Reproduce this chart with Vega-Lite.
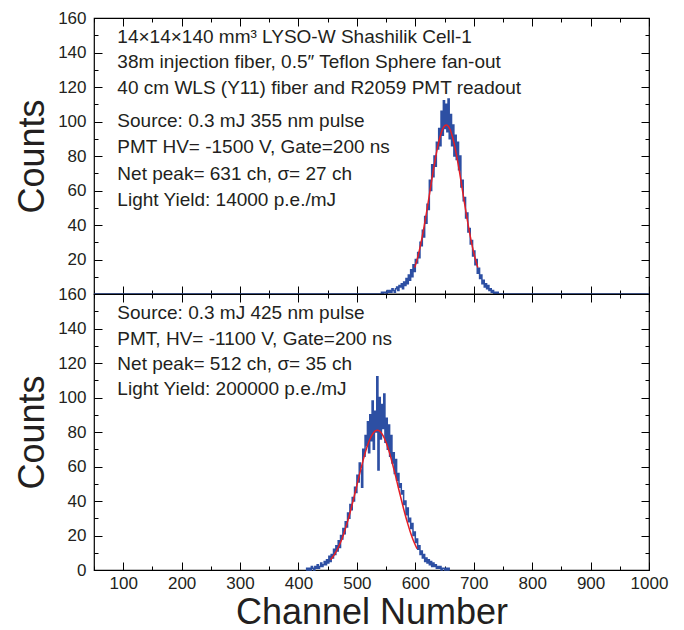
{
  "$schema": "https://vega.github.io/schema/vega-lite/v6.json",
  "background": "white",
  "padding": {"left": 14, "top": 8, "right": 30, "bottom": 0},
  "spacing": 0,
  "bounds": "flush",
  "config": {
    "view": {"stroke": "#000000", "strokeWidth": 1.2},
    "font": "Liberation Sans",
    "axis": {
      "grid": false,
      "domain": false,
      "tickColor": "#000000",
      "tickWidth": 1,
      "labelFont": "Liberation Sans",
      "labelFontSize": 17,
      "labelColor": "#231f20",
      "labelOverlap": false,
      "labelFlush": false,
      "labelBound": false,
      "titleFont": "Liberation Sans",
      "titleFontSize": 36,
      "titleFontWeight": "normal",
      "titleColor": "#231f20"
    },
    "text": {"font": "Liberation Sans", "fontSize": 19, "color": "#231f20"}
  },
  "datasets": {
    "hist1": [
      {"ch":50,"n":0},{"ch":539,"n":0},{"ch":541,"n":0},{"ch":543,"n":1},{"ch":545,"n":0},{"ch":547,"n":1},{"ch":549,"n":1},{"ch":551,"n":0},{"ch":553,"n":2},{"ch":555,"n":1},{"ch":557,"n":2},{"ch":559,"n":1},{"ch":561,"n":3},{"ch":563,"n":2},{"ch":565,"n":1},{"ch":567,"n":3},{"ch":569,"n":4},{"ch":571,"n":2},{"ch":573,"n":5},{"ch":575,"n":4},{"ch":577,"n":6},{"ch":579,"n":3},{"ch":581,"n":7},{"ch":583,"n":5},{"ch":585,"n":9},{"ch":587,"n":6},{"ch":589,"n":11},{"ch":591,"n":8},{"ch":593,"n":14},{"ch":595,"n":10},{"ch":597,"n":17},{"ch":599,"n":13},{"ch":601,"n":20},{"ch":603,"n":18},{"ch":605,"n":24},{"ch":607,"n":21},{"ch":609,"n":30},{"ch":611,"n":28},{"ch":613,"n":37},{"ch":615,"n":33},{"ch":617,"n":45},{"ch":619,"n":41},{"ch":621,"n":52},{"ch":623,"n":49},{"ch":625,"n":66},{"ch":627,"n":60},{"ch":629,"n":75},{"ch":631,"n":68},{"ch":633,"n":80},{"ch":635,"n":74},{"ch":637,"n":88},{"ch":639,"n":84},{"ch":641,"n":96},{"ch":643,"n":86},{"ch":645,"n":106},{"ch":647,"n":92},{"ch":649,"n":112},{"ch":651,"n":96},{"ch":653,"n":110},{"ch":655,"n":94},{"ch":657,"n":113},{"ch":659,"n":90},{"ch":661,"n":104},{"ch":663,"n":86},{"ch":665,"n":98},{"ch":667,"n":80},{"ch":669,"n":92},{"ch":671,"n":78},{"ch":673,"n":88},{"ch":675,"n":72},{"ch":677,"n":80},{"ch":679,"n":62},{"ch":681,"n":66},{"ch":683,"n":54},{"ch":685,"n":56},{"ch":687,"n":44},{"ch":689,"n":47},{"ch":691,"n":36},{"ch":693,"n":38},{"ch":695,"n":29},{"ch":697,"n":31},{"ch":699,"n":22},{"ch":701,"n":25},{"ch":703,"n":17},{"ch":705,"n":20},{"ch":707,"n":12},{"ch":709,"n":15},{"ch":711,"n":9},{"ch":713,"n":11},{"ch":715,"n":6},{"ch":717,"n":8},{"ch":719,"n":4},{"ch":721,"n":6},{"ch":723,"n":3},{"ch":725,"n":5},{"ch":727,"n":2},{"ch":729,"n":3},{"ch":731,"n":1},{"ch":733,"n":2},{"ch":735,"n":0},{"ch":737,"n":1},{"ch":739,"n":0},{"ch":741,"n":1},{"ch":743,"n":0},{"ch":1000,"n":0}
    ],
    "fit1": [
      {"ch":599,"n":15.3},{"ch":603,"n":19.9},{"ch":607,"n":25.4},{"ch":611,"n":31.8},{"ch":615,"n":39.0},{"ch":619,"n":46.9},{"ch":623,"n":55.2},{"ch":627,"n":63.7},{"ch":631,"n":72.1},{"ch":635,"n":79.7},{"ch":639,"n":86.5},{"ch":643,"n":91.9},{"ch":647,"n":95.8},{"ch":651,"n":97.75},{"ch":653,"n":98},{"ch":655,"n":97.75},{"ch":659,"n":95.8},{"ch":663,"n":91.9},{"ch":667,"n":86.5},{"ch":671,"n":79.7},{"ch":675,"n":72.1},{"ch":679,"n":63.7},{"ch":683,"n":55.2},{"ch":687,"n":46.9},{"ch":691,"n":39.0},{"ch":695,"n":31.8},{"ch":699,"n":25.4},{"ch":703,"n":19.9},{"ch":707,"n":15.3}
    ],
    "text1": [
      {"x":90,"y":149,"t":"14×14×140 mm³ LYSO-W Shashilik Cell-1"},
      {"x":90,"y":134.5,"t":"38m injection fiber, 0.5″ Teflon Sphere fan-out"},
      {"x":90,"y":119.5,"t":"40 cm WLS (Y11) fiber and R2059 PMT readout"},
      {"x":90,"y":100.5,"t":"Source: 0.3 mJ 355 nm pulse"},
      {"x":90,"y":85,"t":"PMT HV= -1500 V, Gate=200 ns"},
      {"x":90,"y":69.8,"t":"Net peak= 631 ch, σ= 27 ch"},
      {"x":90,"y":54.5,"t":"Light Yield: 14000 p.e./mJ"}
    ],
    "hist2": [
      {"ch":413,"n":0},{"ch":415,"n":1},{"ch":417,"n":0},{"ch":419,"n":1},{"ch":421,"n":0},{"ch":423,"n":2},{"ch":425,"n":1},{"ch":427,"n":0},{"ch":429,"n":2},{"ch":431,"n":1},{"ch":433,"n":3},{"ch":435,"n":1},{"ch":437,"n":2},{"ch":439,"n":4},{"ch":441,"n":2},{"ch":443,"n":3},{"ch":445,"n":5},{"ch":447,"n":3},{"ch":449,"n":6},{"ch":451,"n":4},{"ch":453,"n":8},{"ch":455,"n":5},{"ch":457,"n":9},{"ch":459,"n":7},{"ch":461,"n":12},{"ch":463,"n":9},{"ch":465,"n":14},{"ch":467,"n":11},{"ch":469,"n":17},{"ch":471,"n":13},{"ch":473,"n":20},{"ch":475,"n":18},{"ch":477,"n":24},{"ch":479,"n":21},{"ch":481,"n":28},{"ch":483,"n":25},{"ch":485,"n":33},{"ch":487,"n":30},{"ch":489,"n":38},{"ch":491,"n":35},{"ch":493,"n":42},{"ch":495,"n":40},{"ch":497,"n":48},{"ch":499,"n":45},{"ch":501,"n":55},{"ch":503,"n":51},{"ch":505,"n":62},{"ch":507,"n":58},{"ch":509,"n":48},{"ch":511,"n":70},{"ch":513,"n":66},{"ch":515,"n":78},{"ch":517,"n":72},{"ch":519,"n":86},{"ch":521,"n":68},{"ch":523,"n":90},{"ch":525,"n":75},{"ch":527,"n":98},{"ch":529,"n":70},{"ch":531,"n":92},{"ch":533,"n":80},{"ch":535,"n":112},{"ch":537,"n":58},{"ch":539,"n":100},{"ch":541,"n":76},{"ch":543,"n":96},{"ch":545,"n":82},{"ch":547,"n":102},{"ch":549,"n":74},{"ch":551,"n":88},{"ch":553,"n":70},{"ch":555,"n":84},{"ch":557,"n":66},{"ch":559,"n":78},{"ch":561,"n":62},{"ch":563,"n":68},{"ch":565,"n":56},{"ch":567,"n":64},{"ch":569,"n":52},{"ch":571,"n":56},{"ch":573,"n":48},{"ch":575,"n":50},{"ch":577,"n":44},{"ch":579,"n":46},{"ch":581,"n":38},{"ch":583,"n":40},{"ch":585,"n":32},{"ch":587,"n":36},{"ch":589,"n":28},{"ch":591,"n":30},{"ch":593,"n":24},{"ch":595,"n":27},{"ch":597,"n":20},{"ch":599,"n":22},{"ch":601,"n":16},{"ch":603,"n":18},{"ch":605,"n":12},{"ch":607,"n":14},{"ch":609,"n":9},{"ch":611,"n":11},{"ch":613,"n":7},{"ch":615,"n":9},{"ch":617,"n":5},{"ch":619,"n":7},{"ch":621,"n":4},{"ch":623,"n":6},{"ch":625,"n":3},{"ch":627,"n":5},{"ch":629,"n":2},{"ch":631,"n":4},{"ch":633,"n":2},{"ch":635,"n":3},{"ch":637,"n":1},{"ch":639,"n":2},{"ch":641,"n":1},{"ch":643,"n":2},{"ch":645,"n":0},{"ch":647,"n":1},{"ch":649,"n":1},{"ch":651,"n":0},{"ch":653,"n":1},{"ch":655,"n":0},{"ch":657,"n":1},{"ch":659,"n":0}
    ],
    "fit2": [
      {"ch":455,"n":5.9},{"ch":459,"n":7.7},{"ch":463,"n":9.8},{"ch":467,"n":12.3},{"ch":471,"n":15.2},{"ch":475,"n":18.6},{"ch":479,"n":22.5},{"ch":483,"n":26.9},{"ch":487,"n":31.6},{"ch":491,"n":36.8},{"ch":495,"n":42.2},{"ch":499,"n":47.7},{"ch":503,"n":53.4},{"ch":507,"n":58.8},{"ch":511,"n":64.0},{"ch":515,"n":68.8},{"ch":519,"n":73.0},{"ch":523,"n":76.4},{"ch":527,"n":78.9},{"ch":531,"n":80.5},{"ch":535,"n":81},{"ch":539,"n":80.5},{"ch":543,"n":78.9},{"ch":547,"n":76.4},{"ch":551,"n":73.0},{"ch":555,"n":68.8},{"ch":559,"n":64.0},{"ch":563,"n":58.8},{"ch":567,"n":53.4},{"ch":571,"n":47.7},{"ch":575,"n":42.2},{"ch":579,"n":36.8},{"ch":583,"n":31.6},{"ch":587,"n":26.9},{"ch":591,"n":22.5},{"ch":595,"n":18.6},{"ch":599,"n":15.2},{"ch":603,"n":12.3}
    ],
    "text2": [
      {"x":90,"y":149.2,"t":"Source: 0.3 mJ 425 nm pulse"},
      {"x":90,"y":134.1,"t":"PMT, HV= -1100 V, Gate=200 ns"},
      {"x":90,"y":119.6,"t":"Net peak= 512 ch, σ= 35 ch"},
      {"x":90,"y":104.8,"t":"Light Yield: 200000 p.e./mJ"}
    ]
  },
  "vconcat": [
    {
      "width": 555,
      "height": 276,
      "resolve": {"axis": {"x": "independent", "y": "independent"}},
      "layer": [
        {
          "data": {"name": "hist1"},
          "mark": {"type": "line", "opacity": 0},
          "encoding": {
            "x": {"field": "ch", "type": "quantitative", "scale": {"domain": [50, 1000], "nice": false, "zero": false},
              "axis": {"orient": "bottom", "offset": -4, "values": [50,150,250,350,450,550,650,750,850,950], "labels": false, "title": null, "tickSize": 4}},
            "y": {"field": "n", "type": "quantitative", "scale": {"domain": [0, 160], "nice": false, "zero": false},
              "axis": {"orient": "left", "offset": -4, "values": [10,30,50,70,90,110,130,150], "labels": false, "title": null, "tickSize": 4}}
          }
        },
        {
          "data": {"name": "hist1"},
          "mark": {"type": "line", "opacity": 0},
          "encoding": {
            "x": {"field": "ch", "type": "quantitative", "scale": {"domain": [50, 1000], "nice": false, "zero": false},
              "axis": {"orient": "top", "offset": -4, "values": [50,150,250,350,450,550,650,750,850,950], "labels": false, "title": null, "tickSize": 4}},
            "y": {"field": "n", "type": "quantitative", "scale": {"domain": [0, 160], "nice": false, "zero": false},
              "axis": {"orient": "right", "offset": -4, "values": [10,30,50,70,90,110,130,150], "labels": false, "title": null, "tickSize": 4}}
          }
        },
        {
          "data": {"name": "hist1"},
          "mark": {"type": "line", "interpolate": "step", "color": "#2d4fa3", "strokeWidth": 1.5},
          "encoding": {
            "x": {"field": "ch", "type": "quantitative", "scale": {"domain": [50, 1000], "nice": false, "zero": false},
              "axis": {"orient": "bottom", "offset": -8, "values": [100,200,300,400,500,600,700,800,900,1000], "labels": false, "title": null, "tickSize": 8}},
            "y": {"field": "n", "type": "quantitative", "scale": {"domain": [0, 160], "nice": false, "zero": false},
              "axis": {"orient": "left", "offset": -8, "values": [20,40,60,80,100,120,140,160], "format": "d", "labelPadding": 8, "tickSize": 8,
                "title": "Counts", "titlePadding": 6}}
          }
        },
        {
          "data": {"name": "fit1"},
          "mark": {"type": "line", "interpolate": "monotone", "color": "#e41e26", "strokeWidth": 1.5},
          "encoding": {
            "x": {"field": "ch", "type": "quantitative", "scale": {"domain": [50, 1000], "nice": false, "zero": false},
              "axis": {"orient": "top", "offset": -8, "values": [100,200,300,400,500,600,700,800,900,1000], "labels": false, "title": null, "tickSize": 8}},
            "y": {"field": "n", "type": "quantitative", "scale": {"domain": [0, 160], "nice": false, "zero": false},
              "axis": {"orient": "right", "offset": -8, "values": [20,40,60,80,100,120,140,160], "labels": false, "title": null, "tickSize": 8}}
          }
        },
        {
          "data": {"name": "text1"},
          "mark": {"type": "text", "align": "left", "baseline": "middle"},
          "encoding": {
            "x": {"field": "x", "type": "quantitative", "scale": {"domain": [50, 1000], "nice": false, "zero": false}, "axis": null},
            "y": {"field": "y", "type": "quantitative", "scale": {"domain": [0, 160], "nice": false, "zero": false}, "axis": null},
            "text": {"field": "t"}
          }
        }
      ]
    },
    {
      "width": 555,
      "height": 276,
      "resolve": {"axis": {"x": "independent", "y": "independent"}},
      "layer": [
        {
          "data": {"name": "hist2"},
          "mark": {"type": "line", "opacity": 0},
          "encoding": {
            "x": {"field": "ch", "type": "quantitative", "scale": {"domain": [50, 1000], "nice": false, "zero": false},
              "axis": {"orient": "bottom", "offset": -4, "values": [50,150,250,350,450,550,650,750,850,950], "labels": false, "title": null, "tickSize": 4}},
            "y": {"field": "n", "type": "quantitative", "scale": {"domain": [0, 160], "nice": false, "zero": false},
              "axis": {"orient": "left", "offset": -4, "values": [10,30,50,70,90,110,130,150], "labels": false, "title": null, "tickSize": 4}}
          }
        },
        {
          "data": {"name": "hist2"},
          "mark": {"type": "line", "opacity": 0},
          "encoding": {
            "x": {"field": "ch", "type": "quantitative", "scale": {"domain": [50, 1000], "nice": false, "zero": false},
              "axis": {"orient": "top", "offset": -4, "values": [50,150,250,350,450,550,650,750,850,950], "labels": false, "title": null, "tickSize": 4}},
            "y": {"field": "n", "type": "quantitative", "scale": {"domain": [0, 160], "nice": false, "zero": false},
              "axis": {"orient": "right", "offset": -4, "values": [10,30,50,70,90,110,130,150], "labels": false, "title": null, "tickSize": 4}}
          }
        },
        {
          "data": {"name": "hist2"},
          "mark": {"type": "line", "interpolate": "step", "color": "#2d4fa3", "strokeWidth": 1.5},
          "encoding": {
            "x": {"field": "ch", "type": "quantitative", "scale": {"domain": [50, 1000], "nice": false, "zero": false},
              "axis": {"orient": "bottom", "offset": -8, "values": [100,200,300,400,500,600,700,800,900,1000], "format": "d", "labelPadding": 5, "tickSize": 8,
                "title": "Channel Number", "titlePadding": 4}},
            "y": {"field": "n", "type": "quantitative", "scale": {"domain": [0, 160], "nice": false, "zero": false},
              "axis": {"orient": "left", "offset": -8, "values": [0,20,40,60,80,100,120,140,160], "format": "d", "labelPadding": 8, "tickSize": 8,
                "title": "Counts", "titlePadding": 6}}
          }
        },
        {
          "data": {"name": "fit2"},
          "mark": {"type": "line", "interpolate": "monotone", "color": "#e41e26", "strokeWidth": 1.5},
          "encoding": {
            "x": {"field": "ch", "type": "quantitative", "scale": {"domain": [50, 1000], "nice": false, "zero": false},
              "axis": {"orient": "top", "offset": -8, "values": [100,200,300,400,500,600,700,800,900,1000], "labels": false, "title": null, "tickSize": 8}},
            "y": {"field": "n", "type": "quantitative", "scale": {"domain": [0, 160], "nice": false, "zero": false},
              "axis": {"orient": "right", "offset": -8, "values": [0,20,40,60,80,100,120,140,160], "labels": false, "title": null, "tickSize": 8}}
          }
        },
        {
          "data": {"name": "text2"},
          "mark": {"type": "text", "align": "left", "baseline": "middle"},
          "encoding": {
            "x": {"field": "x", "type": "quantitative", "scale": {"domain": [50, 1000], "nice": false, "zero": false}, "axis": null},
            "y": {"field": "y", "type": "quantitative", "scale": {"domain": [0, 160], "nice": false, "zero": false}, "axis": null},
            "text": {"field": "t"}
          }
        }
      ]
    }
  ]
}
